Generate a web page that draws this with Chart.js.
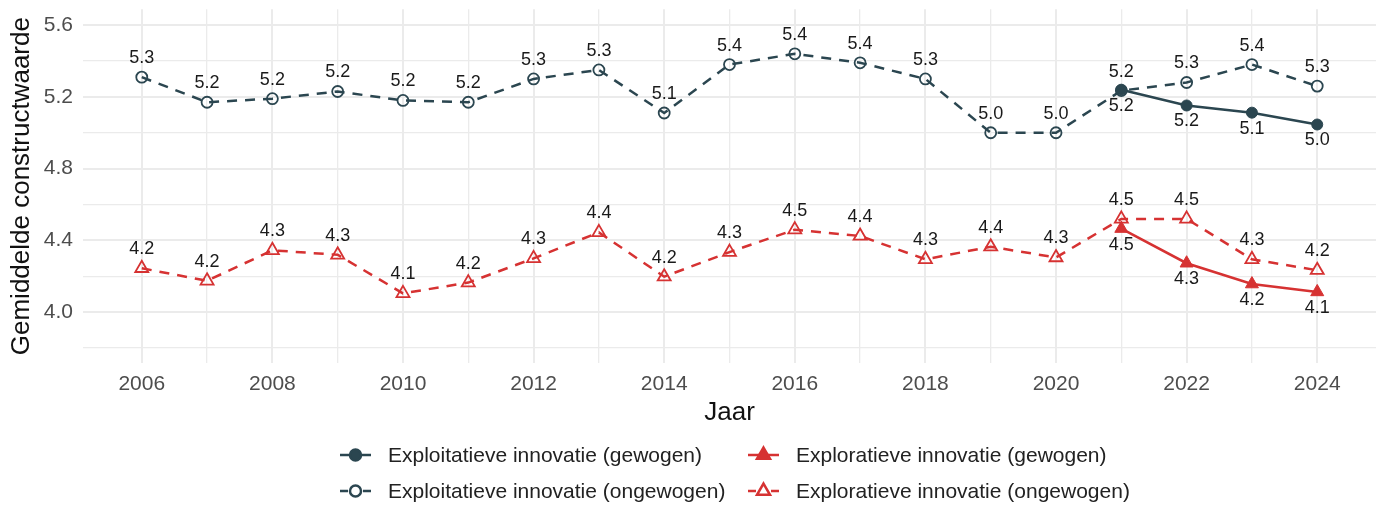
<!DOCTYPE html>
<html>
<head>
<meta charset="utf-8">
<script src="https://cdn.jsdelivr.net/npm/chart.js@4/dist/chart.umd.min.js"></script>
<style>
html,body{margin:0;padding:0;background:#fff;}
#wrap{width:1387px;height:510px;position:relative;}
</style>
</head>
<body>
<div id="wrap"><canvas id="c" width="1387" height="510"></canvas></div>
<script>
// ---- data ----
const years = [2006,2007,2008,2009,2010,2011,2012,2013,2014,2015,2016,2017,2018,2019,2020,2021,2022,2023,2024];
const exploitOngewogen = [5.31,5.17,5.19,5.23,5.18,5.17,5.30,5.35,5.11,5.38,5.44,5.39,5.30,5.00,5.00,5.235,5.28,5.38,5.26];
const explorOngewogen  = [4.245,4.175,4.345,4.32,4.105,4.165,4.30,4.445,4.198,4.335,4.46,4.425,4.295,4.365,4.305,4.52,4.52,4.295,4.234];
const weightedYears = [2021,2022,2023,2024];
const exploitGewogen = [5.24,5.152,5.112,5.046];
const explorGewogen  = [4.466,4.273,4.157,4.113];
const yTickValues = [3.8,4.0,4.2,4.4,4.6,4.8,5.0,5.2,5.4,5.6];
const yLabeledTicks = [4.0,4.4,4.8,5.2,5.6];
const xLabeledTicks = [2006,2008,2010,2012,2014,2016,2018,2020,2022,2024];
const seriesNames = [
  'Exploitatieve innovatie (gewogen)',
  'Exploratieve innovatie (gewogen)',
  'Exploitatieve innovatie (ongewogen)',
  'Exploratieve innovatie (ongewogen)'
];

const SLATE = '#2b4650';
const RED = '#d63232';

function pts(xs, ys){ return xs.map((x,i)=>({x:x, y:ys[i]})); }

const isLabeledY = v => yLabeledTicks.some(t => Math.abs(t - v) < 1e-6);

// data labels plugin
const labelPlugin = {
  id: 'valueLabels',
  afterDatasetsDraw(chart){
    const ctx = chart.ctx;
    ctx.save();
    ctx.font = '18px "Liberation Sans", Arial, sans-serif';
    ctx.fillStyle = '#1a1a1a';
    ctx.textAlign = 'center';
    ctx.textBaseline = 'middle';
    chart.data.datasets.forEach((ds, di) => {
      const meta = chart.getDatasetMeta(di);
      meta.data.forEach((el, i) => {
        const v = ds.data[i].y;
        const dy = ds.labelPos === 'below' ? 16 : -19;
        ctx.fillText(v.toFixed(1), el.x, el.y + dy);
      });
    });
    ctx.restore();
  }
};

// legend plugin (2 x 2 layout)
const legendPlugin = {
  id: 'gridLegend',
  afterDraw(chart){
    const ctx = chart.ctx;
    const slots = [
      {di:0, lx:340, ly:455},
      {di:1, lx:748, ly:455},
      {di:2, lx:340, ly:491},
      {di:3, lx:748, ly:491}
    ];
    ctx.save();
    slots.forEach(s => {
      const ds = chart.data.datasets[s.di];
      const x0 = s.lx, x1 = s.lx + 31, xm = (x0 + x1) / 2, y = s.ly;
      ctx.strokeStyle = ds.borderColor;
      ctx.lineWidth = 2.5;
      ctx.setLineDash([]);
      ctx.beginPath();
      if (ds.borderDash && ds.borderDash.length) {
        ctx.moveTo(x0, y); ctx.lineTo(x0 + 8, y);
        ctx.moveTo(x1 - 8, y); ctx.lineTo(x1, y);
      } else {
        ctx.moveTo(x0, y); ctx.lineTo(x1, y);
      }
      ctx.stroke();
      ctx.fillStyle = ds.pointBackgroundColor;
      ctx.strokeStyle = ds.pointBorderColor;
      Chart.helpers.drawPoint(ctx, {
        pointStyle: ds.pointStyle,
        radius: ds.pointRadius,
        rotation: 0,
        borderWidth: ds.pointBorderWidth
      }, xm, y);
      ctx.fillStyle = '#222';
      ctx.font = '21px "Liberation Sans", Arial, sans-serif';
      ctx.textAlign = 'left';
      ctx.textBaseline = 'middle';
      ctx.fillText(ds.label, x1 + 17, y + 1);
    });
    ctx.restore();
  }
};

new Chart(document.getElementById('c'), {
  type: 'line',
  data: {
    datasets: [
      {
        label: seriesNames[0],
        data: pts(weightedYears, exploitGewogen),
        borderColor: SLATE, backgroundColor: SLATE,
        borderWidth: 2.5,
        pointStyle: 'circle', pointRadius: 5.5,
        pointBackgroundColor: SLATE, pointBorderColor: SLATE, pointBorderWidth: 1,
        labelPos: 'below', fill: false, tension: 0
      },
      {
        label: seriesNames[1],
        data: pts(weightedYears, explorGewogen),
        borderColor: RED, backgroundColor: RED,
        borderWidth: 2.5,
        pointStyle: 'triangle', pointRadius: 7.5,
        pointBackgroundColor: RED, pointBorderColor: RED, pointBorderWidth: 1,
        labelPos: 'below', fill: false, tension: 0
      },
      {
        label: seriesNames[2],
        data: pts(years, exploitOngewogen),
        borderColor: SLATE, backgroundColor: 'rgba(0,0,0,0)',
        borderWidth: 2.5, borderDash: [10, 8],
        pointStyle: 'circle', pointRadius: 5.5,
        pointBackgroundColor: 'rgba(0,0,0,0)', pointBorderColor: SLATE, pointBorderWidth: 1.8,
        labelPos: 'above', fill: false, tension: 0
      },
      {
        label: seriesNames[3],
        data: pts(years, explorOngewogen),
        borderColor: RED, backgroundColor: 'rgba(0,0,0,0)',
        borderWidth: 2.5, borderDash: [10, 8],
        pointStyle: 'triangle', pointRadius: 7.5,
        pointBackgroundColor: 'rgba(0,0,0,0)', pointBorderColor: RED, pointBorderWidth: 1.8,
        labelPos: 'above', fill: false, tension: 0
      }
    ]
  },
  options: {
    responsive: false,
    animation: false,
    devicePixelRatio: 1,
    layout: { padding: { left: 0, right: 11, top: 7, bottom: 0 } },
    plugins: { legend: { display: false }, tooltip: { enabled: false } },
    scales: {
      x: {
        type: 'linear',
        min: 2005.1, max: 2024.9,
        afterBuildTicks: s => { s.ticks = years.map(v => ({ value: v })); },
        afterFit: s => { s.height = 147; s.paddingLeft = 0; s.paddingRight = 0; },
        ticks: {
          autoSkip: false, maxRotation: 0, padding: 9,
          color: '#4d4d4d',
          font: { size: 21, family: '"Liberation Sans", Arial, sans-serif' },
          callback: v => xLabeledTicks.includes(v) ? String(v) : ''
        },
        grid: {
          color: '#ebebeb',
          lineWidth: c => (c.tick && xLabeledTicks.includes(c.tick.value)) ? 2 : 1.3,
          drawTicks: false
        },
        border: { display: false },
        title: {
          display: true, text: 'Jaar', color: '#111',
          font: { size: 26, family: '"Liberation Sans", Arial, sans-serif' },
          padding: { top: 0, bottom: 82 }
        }
      },
      y: {
        type: 'linear',
        min: 3.717, max: 5.688,
        afterBuildTicks: s => { s.ticks = yTickValues.map(v => ({ value: v })); },
        afterFit: s => { s.width = 83; s.paddingTop = 0; s.paddingBottom = 0; },
        ticks: {
          autoSkip: false, padding: 10,
          color: '#4d4d4d',
          font: { size: 21, family: '"Liberation Sans", Arial, sans-serif' },
          callback: v => isLabeledY(v) ? v.toFixed(1) : ''
        },
        grid: {
          color: '#ebebeb',
          lineWidth: c => (c.tick && isLabeledY(c.tick.value)) ? 2 : 1.3,
          drawTicks: false
        },
        border: { display: false },
        title: {
          display: true, text: 'Gemiddelde constructwaarde', color: '#111',
          font: { size: 26, family: '"Liberation Sans", Arial, sans-serif' },
          padding: { top: 6, bottom: 0 }
        }
      }
    }
  },
  plugins: [labelPlugin, legendPlugin]
});
</script>
</body>
</html>
